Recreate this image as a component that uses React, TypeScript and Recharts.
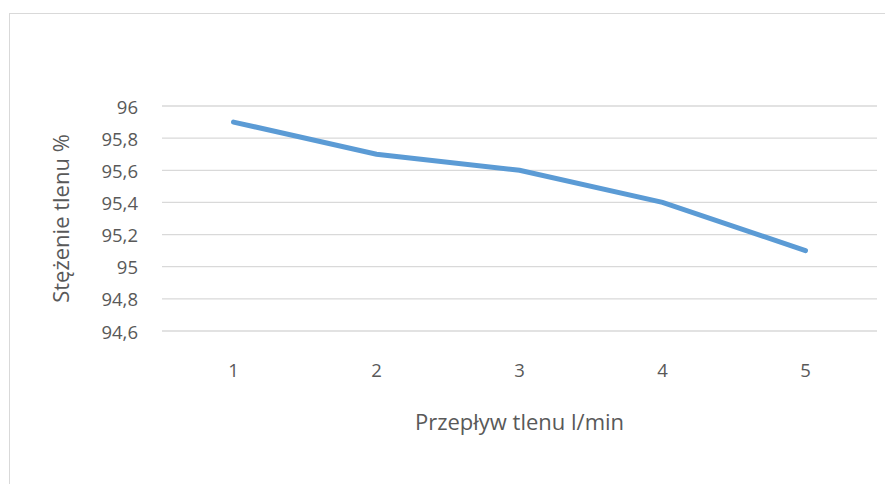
import { CartesianGrid, Line, LineChart, XAxis, YAxis } from "recharts";

const flows = ["1", "2", "3", "4", "5"];
const oxygen = [95.9, 95.7, 95.6, 95.4, 95.1];
const yTicks = [94.6, 94.8, 95, 95.2, 95.4, 95.6, 95.8, 96];

const data = flows.map((flow, i) => ({ flow, oxygen: oxygen[i] }));

const font = "'Open Sans', 'Noto Sans', sans-serif";
const textColor = "#595959";

const fmt = (v: number) => String(v).replace(".", ",");

export default function App() {
  return (
    <div style={{ position: "relative", width: 885, height: 476, fontFamily: font }}>
      <div
        style={{
          position: "absolute",
          left: 1,
          top: 5,
          width: 900,
          height: 500,
          borderLeft: "1.5px solid #d9d9d9",
          borderTop: "1.5px solid #d9d9d9",
        }}
      />
      <div style={{ position: "absolute", left: 0, top: 0 }}>
        <LineChart width={885} height={476} data={data} margin={{ top: 98, right: 16, left: 0, bottom: 0 }}>
          <CartesianGrid vertical={false} stroke="#d9d9d9" strokeWidth={1.3} />
          <XAxis
            dataKey="flow"
            height={153}
            axisLine={false}
            tickLine={false}
            interval={0}
            padding={{ left: 71.5, right: 71.5 }}
            tick={({ x, y, payload }: any) => (
              <text x={x} y={y} dy={30} textAnchor="middle" dominantBaseline="central" fill={textColor} fontSize={18.5} fontFamily={font}>
                {payload.value}
              </text>
            )}
            label={{
              content: ({ viewBox }: any) => (
                <text
                  x={viewBox.x + viewBox.width / 2}
                  y={viewBox.y + 90}
                  textAnchor="middle"
                  dominantBaseline="central"
                  fill={textColor}
                  fontSize={22}
                  fontFamily={font}
                >
                  Przepływ tlenu l/min
                </text>
              ),
            }}
          />
          <YAxis
            width={154}
            domain={[94.6, 96]}
            ticks={yTicks}
            interval={0}
            axisLine={false}
            tickLine={false}
            tick={({ x, y, payload }: any) => (
              <text x={130} y={y} textAnchor="end" dominantBaseline="central" fill={textColor} fontSize={18.5} fontFamily={font}>
                {fmt(payload.value)}
              </text>
            )}
            label={{
              content: ({ viewBox }: any) => {
                const cx = 52;
                const cy = viewBox.y + viewBox.height / 2;
                return (
                  <text
                    x={cx}
                    y={cy}
                    transform={`rotate(-90, ${cx}, ${cy})`}
                    textAnchor="middle"
                    dominantBaseline="central"
                    fill={textColor}
                    fontSize={22}
                    fontFamily={font}
                  >
                    Stężenie tlenu %
                  </text>
                );
              },
            }}
          />
          <Line
            type="linear"
            dataKey="oxygen"
            stroke="#5b9bd5"
            strokeWidth={5}
            dot={false}
            activeDot={false}
            strokeLinecap="round"
            isAnimationActive={false}
          />
        </LineChart>
      </div>
    </div>
  );
}
